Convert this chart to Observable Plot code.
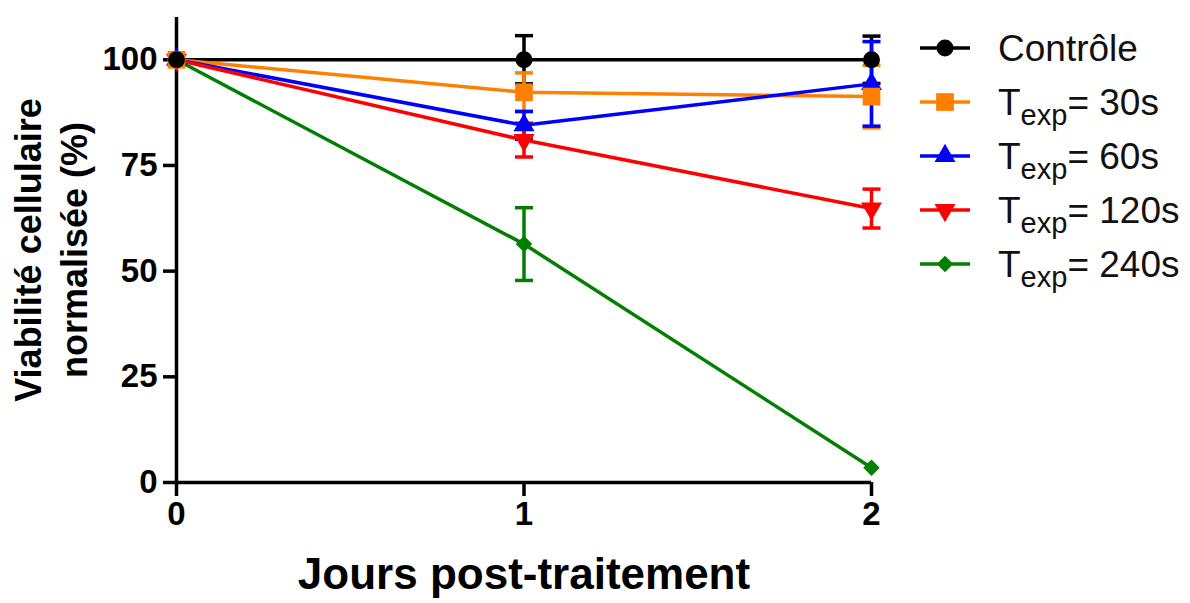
<!DOCTYPE html>
<html><head><meta charset="utf-8">
<script src="https://cdn.jsdelivr.net/npm/d3@7"></script>
<script src="https://cdn.jsdelivr.net/npm/@observablehq/plot@0.6"></script>
<style>
body{margin:0;background:#fff;}
#wrap{position:relative;width:1190px;height:603px;font-family:"Liberation Sans",Arial,sans-serif;}
#legend{position:absolute;left:918px;top:21px;}
.row{display:flex;align-items:center;height:54px;}
.row svg{width:56px;height:30px;margin-right:24px;flex:none;}
.lab{font-size:37px;color:#111;line-height:1;white-space:nowrap;}
.lab sub{font-size:29px;vertical-align:-10px;line-height:0;}
</style></head>
<body><div id="wrap"><div id="legend"></div></div>
<script>
// ---- data ----
const days = [0, 1, 2];
const seriesNames = ["Contrôle", "Texp= 30s", "Texp= 60s", "Texp= 120s", "Texp= 240s"];
const legendMain = ["Contrôle", "T", "T", "T", "T"];
const legendSub = ["", "exp", "exp", "exp", "exp"];
const legendTail = ["", "= 30s", "= 60s", "= 120s", "= 240s"];
const controle = [100, 100, 100];
const controleErr = [0, 5.7, 5.6];
const t30 = [100, 92.3, 91.3];
const t30Err = [0, 4.6, 7.4];
const t60 = [100, 84.5, 94.3];
const t60Err = [0, 3.3, 10];
const t120 = [100, 81, 64.8];
const t120Err = [0, 4, 4.6];
const t240 = [100, 56.4, 3.5];
const t240Err = [0, 8.6, 0];
const yTicks = [0, 25, 50, 75, 100];
const xTicks = [0, 1, 2];

// ---- styles ----
const colors = ["#000000", "#FF8000", "#0000FF", "#FF0000", "#008000"];
const symbols = ["circle", "square", "triangle", "triangle", "diamond2"];
const rotations = [0, 0, 0, 180, 0];
const radii = [8.5, 10, 7.8, 7.8, 7.4];
const lw = 3.5;

const means = [controle, t30, t60, t120, t240];
const errs = [controleErr, t30Err, t60Err, t120Err, t240Err];
const rows = [];
seriesNames.forEach((s, i) => days.forEach((d, j) =>
  rows.push({series: s, idx: i, day: d, v: means[i][j], e: errs[i][j]})));

const capSymbol = {draw(ctx) { ctx.moveTo(-9, 0); ctx.lineTo(9, 0); }};
const font = "Liberation Sans, Arial, sans-serif";

const marks = [
  Plot.ruleX([0], {y1: 0, y2: 110, strokeWidth: lw}),
  Plot.ruleY([0], {x1: 0, x2: 2, strokeWidth: lw}),
  Plot.axisY({ticks: yTicks, tickSize: 13, tickPadding: 6, fontSize: 33, fontWeight: "bold", strokeWidth: lw, label: null}),
  Plot.axisX({ticks: xTicks, tickSize: 14, tickPadding: 5, fontSize: 33, fontWeight: "bold", strokeWidth: lw, label: null, tickFormat: "d"})
];
// error bars
seriesNames.forEach((s, i) => {
  const er = rows.filter(r => r.idx === i && r.e > 0);
  marks.push(Plot.ruleX(er, {x: "day", y1: r => r.v - r.e, y2: r => r.v + r.e, stroke: colors[i], strokeWidth: lw}));
  marks.push(Plot.dot(er, {x: "day", y: r => r.v + r.e, symbol: capSymbol, stroke: colors[i], fill: "none", strokeWidth: lw}));
  marks.push(Plot.dot(er, {x: "day", y: r => r.v - r.e, symbol: capSymbol, stroke: colors[i], fill: "none", strokeWidth: lw}));
});
// lines
seriesNames.forEach((s, i) => {
  marks.push(Plot.line(rows.filter(r => r.idx === i), {x: "day", y: "v", stroke: colors[i], strokeWidth: lw}));
});
// symbols (black on top)
[4, 3, 2, 1, 0].forEach(i => {
  marks.push(Plot.dot(rows.filter(r => r.idx === i), {x: "day", y: "v", symbol: symbols[i], r: radii[i], rotate: rotations[i], fill: colors[i], stroke: "none"}));
});
// titles
marks.push(Plot.text(["Jours post-traitement"], {frameAnchor: "bottom", dy: 106, fontSize: 44, fontWeight: "bold", fill: "#000"}));
marks.push(Plot.text(["Viabilité cellulaire\nnormalisée (%)"], {frameAnchor: "left", textAnchor: "middle", rotate: -90, dx: -127, dy: 0, fontSize: 36, fontWeight: "bold", lineHeight: 1.28, fill: "#000"}));

const chart = Plot.plot({
  width: 1190, height: 603,
  marginLeft: 176, marginRight: 319, marginTop: 17, marginBottom: 121,
  x: {domain: [0, 2]},
  y: {domain: [0, 110]},
  style: {fontFamily: font, background: "#fff", color: "#000", overflow: "visible"},
  marks
});
document.getElementById("wrap").prepend(chart);

// legend
const legend = d3.select("#legend");
seriesNames.forEach((s, i) => {
  const row = legend.append("div").attr("class", "row");
  const svg = row.append("svg").attr("viewBox", "0 0 56 30");
  svg.append("line").attr("x1", 2).attr("x2", 52).attr("y1", 15).attr("y2", 15).attr("stroke", colors[i]).attr("stroke-width", lw);
  const sym = {circle: d3.symbolCircle, square: d3.symbolSquare, triangle: d3.symbolTriangle, diamond2: d3.symbolDiamond2}[symbols[i]];
  svg.append("path").attr("d", d3.symbol(sym, radii[i] * radii[i] * Math.PI)())
    .attr("transform", `translate(27,15) rotate(${rotations[i]})`).attr("fill", colors[i]);
  const lab = row.append("div").attr("class", "lab");
  lab.append("span").text(legendMain[i]);
  if (legendSub[i]) lab.append("sub").text(legendSub[i]);
  if (legendTail[i]) lab.append("span").text(legendTail[i]);
});
</script>
</body></html>
